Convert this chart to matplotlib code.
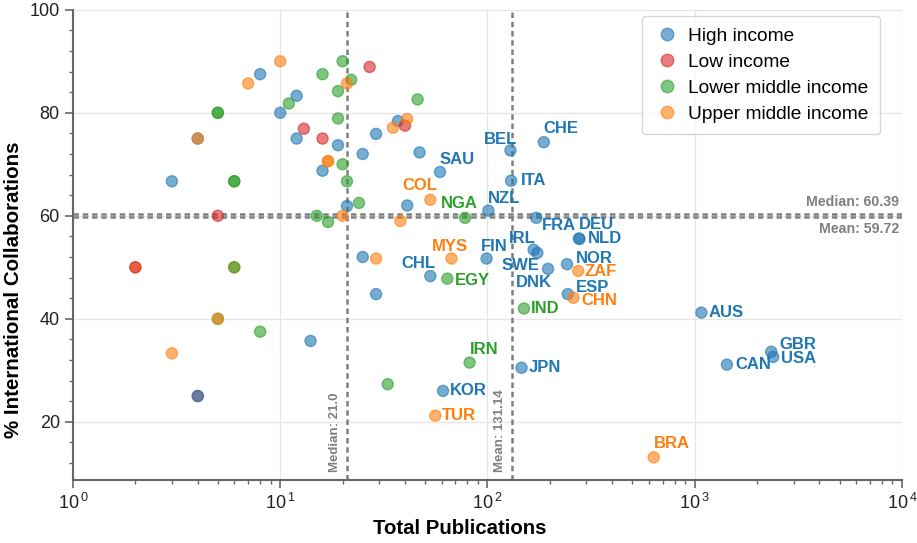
import matplotlib
matplotlib.use("Agg")
import matplotlib.pyplot as plt
from matplotlib.ticker import AutoMinorLocator, LogLocator, FuncFormatter
from matplotlib.lines import Line2D
import numpy as np

plt.rcParams['font.family'] = ['Liberation Sans', 'DejaVu Sans']
plt.rcParams['mathtext.fontset'] = 'custom'
plt.rcParams['mathtext.rm'] = 'Liberation Sans'

# data (data order = drawing order, later points sit on top)
countries = [''] * 16 + [''] * 3 + [''] * 5 + [''] * 19 + [''] * 17 + \
    ['BEL', 'CHE', 'SAU', 'ITA', 'COL', 'NGA', 'NZL', 'FRA', 'DEU', 'NLD', 'IRL', 'FIN', 'MYS',
     'CHL', 'EGY', 'SWE', 'NOR', 'ZAF', 'DNK', 'ESP', 'CHN', 'IND', 'AUS', 'GBR', 'USA', 'CAN',
     'IRN', 'JPN', 'KOR', 'TUR', 'BRA']
pubs = [8, 12, 10, 12, 19, 16, 3, 21, 14, 37, 29, 25, 47, 41, 25, 29,
        4, 4, 4,
        13, 16, 5, 27, 40,
        11, 5, 5, 20, 21, 6, 6, 24, 15, 17, 20, 16, 22, 19, 46, 19, 8, 33, 5,
        10, 7, 4, 17, 17, 20, 21, 41, 35, 38, 29, 3, 5, 6, 6, 2, 2,
        129, 187, 59, 130, 53, 78, 101, 172, 276, 278, 167, 99, 67,
        53, 64, 174, 242, 274, 196, 244, 260, 150, 1077, 2340, 2390, 1430,
        82, 146, 61, 56, 634]
intl = [87.5, 83.3, 80, 75, 73.7, 68.75, 66.7, 61.9, 35.7, 78.4, 75.9, 72, 72.3, 62.0, 52, 44.8,
        25, 25, 75,
        76.9, 75, 60, 88.9, 77.5,
        81.8, 80, 80, 70, 66.7, 66.7, 66.7, 62.5, 60, 58.8, 90, 87.5, 86.4, 84.2, 82.6, 78.9, 37.5, 27.3, 40,
        90, 85.7, 75, 70.6, 70.6, 60, 85.7, 78.8, 77.1, 59.0, 51.7, 33.3, 40, 50, 50, 50, 50,
        72.7, 74.3, 68.5, 66.8, 63.1, 59.6, 61.0, 59.6, 55.6, 55.5, 53.4, 51.7, 51.7,
        48.3, 47.8, 52.8, 50.6, 49.3, 49.7, 44.8, 44.1, 42.0, 41.2, 33.6, 32.6, 31.1,
        31.5, 30.5, 26.0, 21.2, 13.1]
income = ['H'] * 16 + ['L', 'H', 'H'] + ['L'] * 5 + ['LM'] * 19 + \
    ['U'] * 13 + ['U', 'LM', 'U', 'L'] + \
    ['H', 'H', 'H', 'H', 'U', 'LM', 'H', 'H', 'H', 'H', 'H', 'H', 'U',
     'H', 'LM', 'H', 'H', 'U', 'H', 'H', 'U', 'LM', 'H', 'H', 'H', 'H',
     'LM', 'H', 'H', 'U', 'U']
groups = ['H', 'L', 'LM', 'U']
group_names = ['High income', 'Low income', 'Lower middle income', 'Upper middle income']
group_colors = {'H': '#1f77b4', 'L': '#d62728', 'LM': '#2ca02c', 'U': '#ff7f0e'}

median_x, mean_x = 21.0, 131.14
median_y, mean_y = 60.39, 59.72

# label offsets in pixels (dx, dy, ha)
offsets = {
    'CHE': (0, 14, 'left'), 'BEL': (7, 11, 'right'), 'SAU': (0, 13, 'left'),
    'ITA': (10, 0, 'left'), 'COL': (7, 14, 'right'), 'NGA': (-6, 14, 'center'),
    'NZL': (0, 12, 'left'), 'FRA': (6, -8, 'left'), 'DEU': (0, 14, 'left'),
    'NLD': (8, 0, 'left'), 'IRL': (2, 11, 'right'), 'FIN': (-6, 12, 'left'),
    'MYS': (-1, 12, 'center'), 'CHL': (5, 13, 'right'), 'EGY': (8, -2, 'left'),
    'SWE': (2, -13, 'right'), 'DNK': (4, -14, 'right'), 'NOR': (9, 6, 'left'),
    'ZAF': (6, -1, 'left'), 'ESP': (8, 7, 'left'), 'CHN': (8, -3, 'left'),
    'IND': (7, 0, 'left'), 'AUS': (7, 0, 'left'), 'GBR': (8, 7, 'left'),
    'USA': (8, -2, 'left'), 'CAN': (8, 0, 'left'), 'IRN': (0, 13, 'left'),
    'JPN': (7, 0, 'left'), 'KOR': (7, 0, 'left'), 'TUR': (7, 0, 'left'),
    'BRA': (0, 14, 'left'),
}

fig = plt.figure(figsize=(9.17, 5.43), dpi=100)
ax = fig.add_axes([0.0796, 0.116, 0.904, 0.866])

colors = [group_colors[g] for g in income]
ax.scatter(pubs, intl, s=64, c=colors, edgecolors=colors, linewidths=1, alpha=0.6, zorder=3)

for name, x, y, g in zip(countries, pubs, intl, income):
    if not name:
        continue
    dx, dy, ha = offsets[name]
    ax.annotate(name, (x, y), xytext=(dx, dy), textcoords='offset pixels',
                ha=ha, va='center', fontsize=12, fontweight='bold',
                color=group_colors[g], zorder=4)

dash = (0, (2.2, 1.5))
ax.axvline(median_x, color='gray', linestyle=dash, linewidth=1.8, zorder=2)
ax.axvline(mean_x, color='gray', linestyle=dash, linewidth=1.8, zorder=2)
ax.axhline(median_y, color='gray', linestyle=dash, linewidth=1.8, zorder=2)
ax.axhline(mean_y, color='gray', linestyle=dash, linewidth=1.8, zorder=2)

ax.text(median_x * 0.94, 10.2, f'Median: {median_x}', rotation=90, ha='right', va='bottom',
        fontsize=9.5, fontweight='bold', color='gray')
ax.text(mean_x * 0.94, 10.2, f'Mean: {mean_x}', rotation=90, ha='right', va='bottom',
        fontsize=9.5, fontweight='bold', color='gray')
ax.text(9700, median_y + 0.9, f'Median: {median_y}', ha='right', va='bottom',
        fontsize=10.2, fontweight='bold', color='gray')
ax.text(9700, mean_y - 0.9, f'Mean: {mean_y}', ha='right', va='top',
        fontsize=10.2, fontweight='bold', color='gray')

ax.set_xscale('log')
ax.set_xlim(1, 1e4)
ax.set_ylim(8.7, 100)
ax.yaxis.set_minor_locator(AutoMinorLocator(5))
ax.xaxis.set_minor_locator(LogLocator(base=10, subs=range(2, 10)))
ax.xaxis.set_major_formatter(FuncFormatter(lambda v, p: rf'$10^{{\,{int(round(np.log10(v)))}}}$'))

ax.grid(True, which='major', color='#e6e6e6', linewidth=1, zorder=0)
for s in ['top', 'right']:
    ax.spines[s].set_visible(False)
for s in ['left', 'bottom']:
    ax.spines[s].set_color('#666666')
    ax.spines[s].set_linewidth(1.5)
ax.tick_params(which='major', length=6, width=1.2, color='#666666', labelsize=13, labelcolor='#222222')
ax.tick_params(which='minor', length=3, width=1, color='#666666')

ax.set_xlabel('Total Publications', fontsize=14.7, fontweight='bold')
ax.set_ylabel('% International Collaborations', fontsize=14.8, fontweight='bold')
ax.xaxis.set_label_coords(0.466, -0.083)
ax.yaxis.set_label_coords(-0.060, 0.404)

handles = [Line2D([], [], marker='o', linestyle='', markersize=9,
                  markerfacecolor=group_colors[g], markeredgecolor=group_colors[g], alpha=0.6)
           for g in groups]
ax.legend(handles, group_names, loc='upper right', fontsize=13.8, frameon=True,
          borderpad=0.6, labelspacing=0.45, handlelength=1.4, handletextpad=0.4,
          borderaxespad=0, bbox_to_anchor=(0.973, 0.987))

fig.savefig('out.png', dpi=100)
